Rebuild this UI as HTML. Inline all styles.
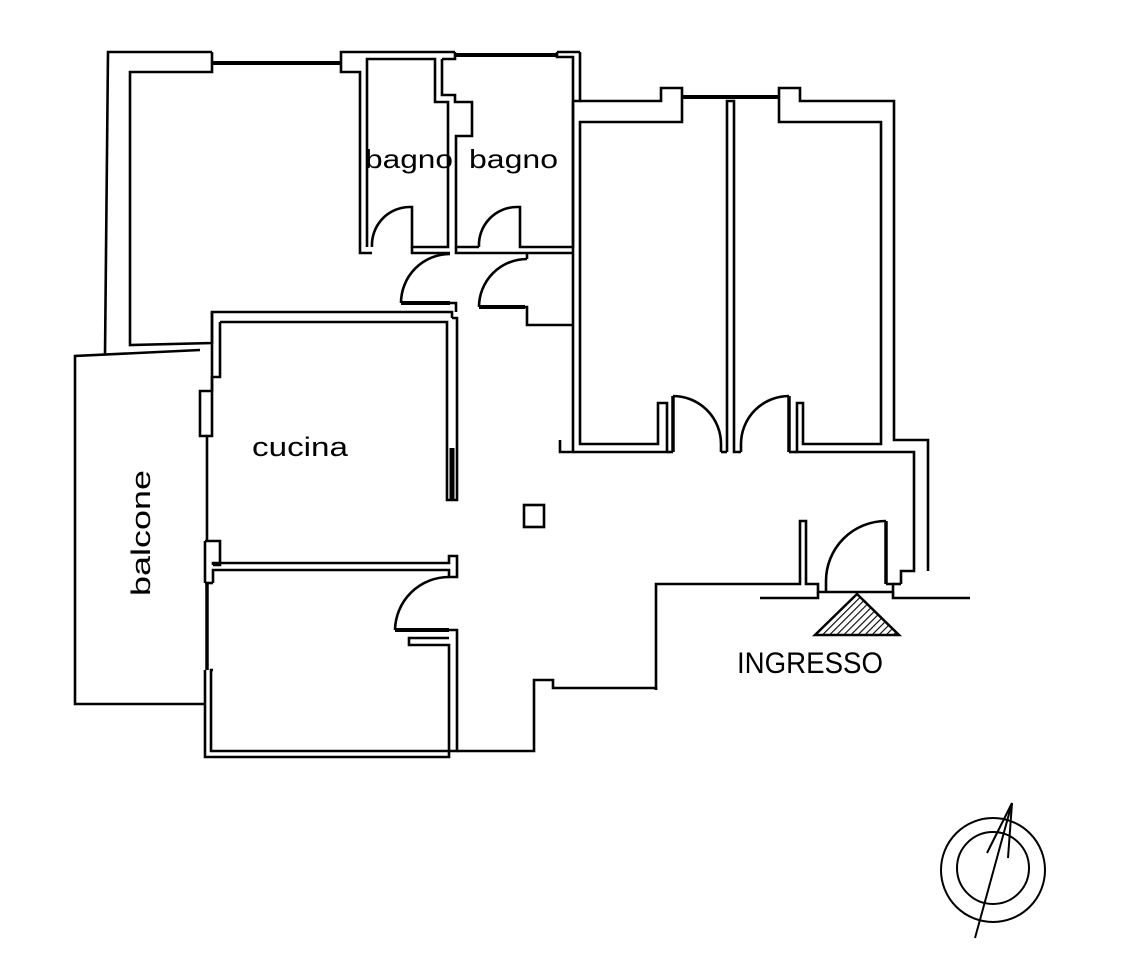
<!DOCTYPE html>
<html><head><meta charset="utf-8"><style>
html,body{margin:0;padding:0;background:#fff;}
svg{display:block}
text{font-family:"Liberation Sans","DejaVu Sans",sans-serif;fill:#000}
</style></head><body>
<svg width="1132" height="960" viewBox="0 0 1132 960" xmlns="http://www.w3.org/2000/svg">
<defs>
<pattern id="h" patternUnits="userSpaceOnUse" width="5" height="5" patternTransform="rotate(45)">
<line x1="0" y1="0" x2="0" y2="5" stroke="#000" stroke-width="2.2"/>
</pattern>
</defs>
<g fill="none" stroke="#000" stroke-width="2.6" stroke-linejoin="miter">
<!-- top-left room -->
<polyline points="212,52 108,52 105,355"/>
<polyline points="212,52 212,72 130,72 130,345 212,343 212,312 452,312 452,318"/>
<line x1="212" y1="63" x2="341" y2="63" stroke-width="4"/>
<polyline points="341,63 341,52 455,52"/>
<polyline points="341,63 341,72 360,72 360,253 372,253"/>
<!-- bagno 1 -->
<polyline points="367,247 367,59 435,59 435,102 448,102 448,247 412,247 412,207 409,207"/>
<path d="M409,207 A38,38 0 0 0 372,247"/>
<!-- bagno 2 -->
<polyline points="442,59 442,95 455,95 455,102 472,102 472,136 456,136 456,247 479,247"/>
<line x1="455" y1="55" x2="557" y2="55" stroke-width="4"/>
<polyline points="455,52 455,59 442,59"/>
<polyline points="557,52 557,57 573,57 573,247 520,247 520,207 517,207"/>
<path d="M517,207 A38,38 0 0 0 479,247"/>
<polyline points="580,52 580,101 573,101"/>
<line x1="557" y1="52" x2="580" y2="52"/>
<!-- corridor / closet -->
<polyline points="412,247 412,253 450,253"/>
<polyline points="456,247 456,253 520,253 527,253 573,253"/>
<line x1="401" y1="303" x2="450" y2="303" stroke-width="4"/>
<path d="M401,303 A49,49 0 0 1 450,254"/>
<polyline points="450,303 456,303 456,312"/>
<line x1="479" y1="307" x2="525" y2="307" stroke-width="4"/>
<path d="M479,307 A48,48 0 0 1 527,259"/>
<polyline points="527,253 527,259"/>
<polyline points="525,307 527,307 527,325 573,325"/>
<!-- right rooms -->
<polyline points="573,101 573,452 560,452 560,440"/>
<polyline points="580,101 661,101 661,88 682,88 682,122 580,122 580,444 658,444 658,403 667,403 667,452 573,452"/>
<line x1="682" y1="97" x2="779" y2="97" stroke-width="4"/>
<polyline points="779,97 779,88 800,88 800,101 894,101 894,440 928,440 928,571"/>
<polyline points="779,97 779,122 881,122 881,444 803,444 803,403 797,403 797,452 914,452 914,571 901,571 901,584"/>
<polyline points="727,452 727,101 734,101 734,452 741,452"/>
<polyline points="727,452 721,452"/>
<line x1="673" y1="396" x2="673" y2="452" stroke-width="3.5"/>
<path d="M673,396 A48,48 0 0 1 721,444 L721,452"/>
<line x1="789" y1="396" x2="789" y2="452" stroke-width="3.5"/>
<path d="M789,396 A48,48 0 0 0 741,444 L741,452"/>
<polyline points="667,452 673,452"/>
<polyline points="789,452 797,452"/>
<!-- entry -->
<polyline points="656,690 656,584 800,584 800,521 806,521 806,584 818,584 818,592 893,592 893,584 886,584"/>
<line x1="886" y1="521" x2="886" y2="584" stroke-width="3.5"/>
<path d="M886,521 A60,60 0 0 0 826,581 L826,592"/>
<polyline points="760,598 818,598 818,592"/>
<polyline points="893,592 893,598 970,598"/>
<polyline points="893,584 901,584"/>
<!-- kitchen -->
<polyline points="212,312 212,391 200,391 200,436 207,436"/>
<polyline points="220,322 447,322 447,500 457,500 457,318 452,318"/>
<line x1="452" y1="448" x2="452" y2="500" stroke-width="5"/>
<polyline points="220,322 220,377 212,377 212,436 207,436 207,541"/>
<polyline points="205,541 220,541 220,565 213,565"/>
<polyline points="205,541 205,583"/>
<polyline points="213,565 213,563 449,563 449,556 457,556 457,577 449,577 449,570 213,570 213,583"/>
<!-- bedroom bottom-left -->
<line x1="207" y1="583" x2="207" y2="670" stroke-width="3.5"/>
<polyline points="205,583 213,583"/>
<polyline points="205,670 205,757 449,757 449,751 457,751 457,630 449,630"/>
<polyline points="213,670 211,670 211,751 449,751 449,645 409,645 409,638 449,638"/>
<line x1="395" y1="630" x2="449" y2="630" stroke-width="4"/>
<path d="M395,630 A54,54 0 0 1 449,577"/>
<polyline points="457,751 534,751 534,680 553,680 553,688 656,688 656,690"/>
<!-- balcone -->
<polyline points="200,350 75,356 75,704 205,704"/>
<!-- pillar -->
<rect x="524" y="505" width="20" height="22"/>
</g>
<!-- ingresso triangle -->
<polygon points="857,594 815,635 899,635" fill="url(#h)" stroke="#000" stroke-width="2.5"/>
<!-- compass -->
<g fill="none" stroke="#000" stroke-width="2">
<circle cx="993" cy="870" r="52"/>
<circle cx="993" cy="868" r="36"/>
<line x1="975" y1="938" x2="1012" y2="803"/>
<line x1="987" y1="853" x2="1012" y2="803"/>
<line x1="1008" y1="858" x2="1012" y2="803"/>
</g>
<text x="365" y="168" font-size="26" textLength="88" lengthAdjust="spacingAndGlyphs">bagno</text>
<text x="469" y="168" font-size="26" textLength="89" lengthAdjust="spacingAndGlyphs">bagno</text>
<text x="252" y="456" font-size="27" textLength="96" lengthAdjust="spacingAndGlyphs">cucina</text>
<text transform="translate(150,596) rotate(-90)" font-size="27" textLength="126" lengthAdjust="spacingAndGlyphs">balcone</text>
<text x="737" y="673" font-size="30" textLength="146" lengthAdjust="spacingAndGlyphs">INGRESSO</text>
</svg>
</body></html>
